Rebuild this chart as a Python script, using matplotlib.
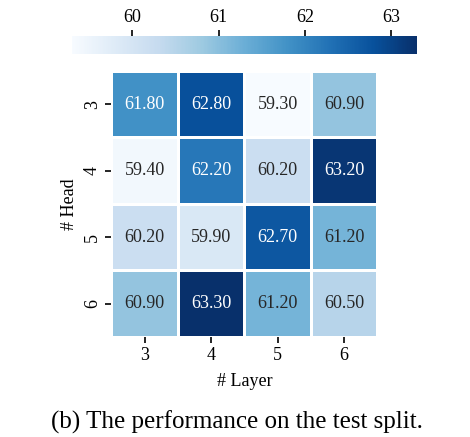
import numpy as np
import matplotlib
matplotlib.use('Agg')
import matplotlib.pyplot as plt
import seaborn as sns

layers = [3, 4, 5, 6]
heads = [3, 4, 5, 6]
# rows = # Head, cols = # Layer
scores = np.array([
    [61.80, 62.80, 59.30, 60.90],
    [59.40, 62.20, 60.20, 63.20],
    [60.20, 59.90, 62.70, 61.20],
    [60.90, 63.30, 61.20, 60.50],
])
cbar_ticks = [60, 61, 62, 63]

plt.rcParams['font.family'] = ['Liberation Serif', 'DejaVu Serif']
plt.rcParams['font.size'] = 13

fig = plt.figure(figsize=(4.7, 4.37), dpi=100)
ax = fig.add_axes([0.236, 0.229, 0.568, 0.609])
cax = fig.add_axes([0.153, 0.876, 0.734, 0.041])

sns.heatmap(scores, ax=ax, cbar_ax=cax, cmap='Blues', annot=True, fmt='.2f',
            linewidths=0.8, linecolor='white', square=True,
            xticklabels=layers, yticklabels=heads,
            annot_kws={'fontsize': 13},
            cbar_kws={'orientation': 'horizontal', 'ticks': cbar_ticks})

ax.set_xlabel('# Layer', fontsize=13, labelpad=6)
ax.set_ylabel('# Head', fontsize=13)
ax.tick_params(axis='both', labelsize=13, length=4, width=1.2)
for lab in ax.get_yticklabels():
    lab.set_rotation(90)
    lab.set_va('center')

cax.xaxis.set_ticks_position('top')
cax.tick_params(labelsize=13, length=4, width=1.2)
cax.set_frame_on(False)

fig.text(0.505, 0.034, '(b) The performance on the test split.', ha='center',
         va='center', fontsize=18)

fig.savefig('out.png', dpi=100)
